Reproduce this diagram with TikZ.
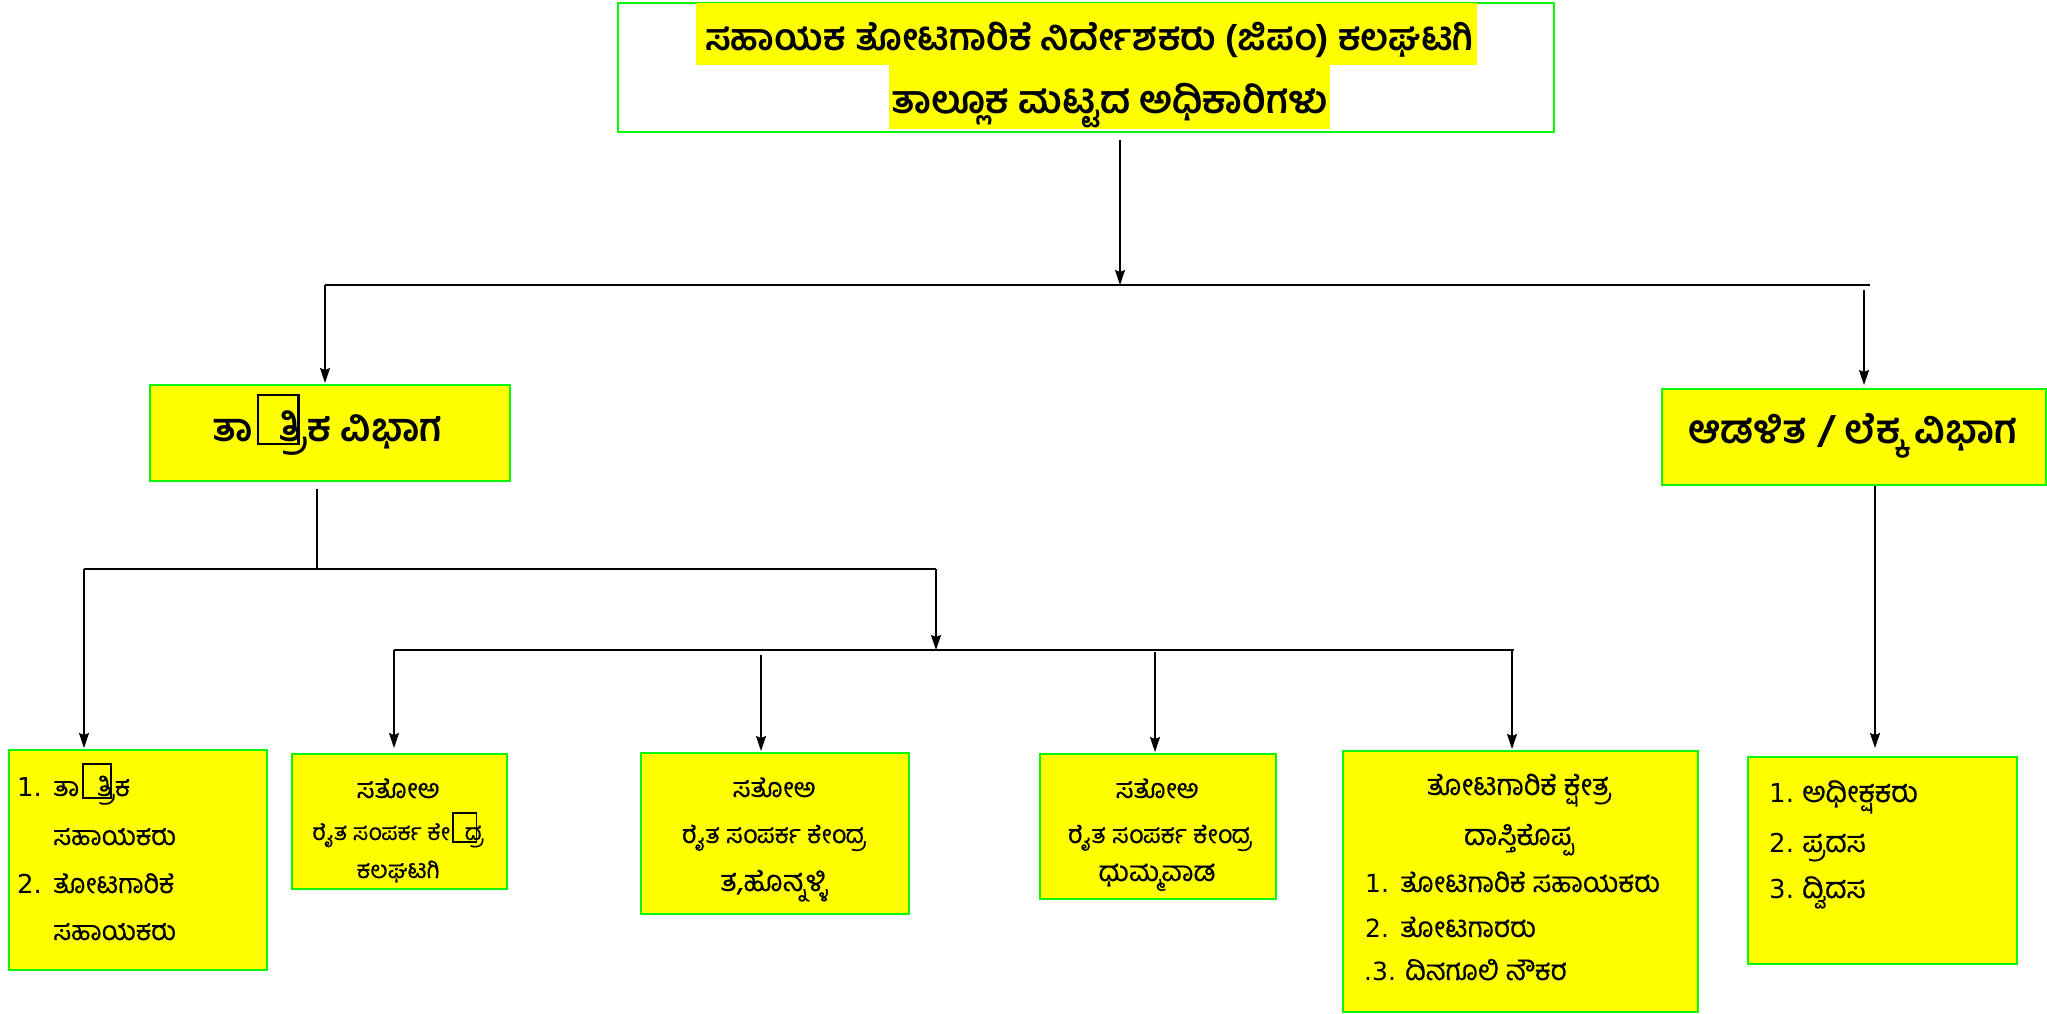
\documentclass[tikz,border=0pt]{standalone}
\usepackage{fontspec}
\usepackage{graphicx}
\usetikzlibrary{arrows.meta}
\newfontfamily\kn[Script=Kannada]{Hind Mysuru}
\newfontfamily\knr[Script=Kannada,FakeBold=0.3]{Hind Mysuru}
\newfontfamily\dv{DejaVu Sans}
\newcommand\kfs[1]{\knr\fontsize{#1}{#1}\selectfont}
\newcommand\dfs[1]{\dv\fontsize{#1}{#1}\selectfont}
\newcommand\kbf[1]{\kn\bfseries\fontsize{#1}{#1}\selectfont}
\newcommand\tofu{\kern0.1em\rlap{\raisebox{-0.05em}{\setlength\fboxsep{0pt}\setlength\fboxrule{0.06em}\framebox[1.1em]{\rule{0pt}{1.2em}}}}\kern0.55em}
\newcommand\fitw[2]{\resizebox{#1pt}{!}{#2}}
\definecolor{boxgreen}{RGB}{10,245,10}
\definecolor{hl}{RGB}{255,255,0}
\tikzset{
  gbox/.style={draw=boxgreen, line width=2.4pt, fill=hl, inner sep=0pt, anchor=north west},
  wbox/.style={draw=boxgreen, line width=2.4pt, fill=white, inner sep=0pt, anchor=north west},
  hlrect/.style={fill=hl, inner sep=0pt, anchor=north west},
  conn/.style={line width=1.6pt},
  bar/.style={line width=2.6pt},
  arr/.style={conn, -{Stealth[length=15pt,width=10pt,inset=2pt]}},
  lt/.style={anchor=base west, inner sep=0pt},
  ct/.style={anchor=base, inner sep=0pt}
}
\begin{document}
\begin{tikzpicture}[x=1pt,y=-1pt]
\useasboundingbox[fill=white] (0,0) rectangle (2047,1013);
% ---------- top box
\node[wbox, minimum width=936, minimum height=129] (top) at (617,1.5) {};
\node[hlrect, minimum width=781, minimum height=62] (hl1) at (696,3) {};
\node[hlrect, minimum width=441, minimum height=64] (hl2) at (889,65) {};
\node[lt] (title1) at (705,50) {\kbf{40}\fitw{768}{ಸಹಾಯಕ ತೋಟಗಾರಿಕೆ ನಿರ್ದೇಶಕರು (ಜಿಪಂ) ಕಲಘಟಗಿ}};
\node[lt] (title2) at (891,113) {\kbf{40}\fitw{437}{ತಾಲ್ಲೂಕ ಮಟ್ಟದ ಅಧಿಕಾರಿಗಳು}};
% ---------- division boxes
\node[gbox, minimum width=360, minimum height=96] (divL) at (149,384) {};
\node[lt] (divLt) at (212,441) {\kbf{38}\fitw{230}{ತಾ\tofu ತ್ರಿಕ ವಿಭಾಗ}};
\node[gbox, minimum width=384, minimum height=96] (divR) at (1661,388) {};
\node[lt] (divRt) at (1688,443) {\kbf{38}\fitw{329}{ಆಡಳಿತ / ಲೆಕ್ಕ ವಿಭಾಗ}};
% ---------- bottom boxes
\node[gbox, minimum width=258, minimum height=220] (b1) at (8,749) {};
\node[gbox, minimum width=215, minimum height=135] (b2) at (291,753) {};
\node[gbox, minimum width=268, minimum height=161] (b3) at (640,752) {};
\node[gbox, minimum width=236, minimum height=145] (b4) at (1039,753) {};
\node[gbox, minimum width=355, minimum height=261] (b5) at (1342,750) {};
\node[gbox, minimum width=269, minimum height=207] (b6) at (1747,756) {};
% box 1 text
\node[lt, font=\dfs{26}] (b1n1) at (17,796) {1.};
\node[lt, font=\kfs{27}] (b1t1) at (53,796) {ತಾ\tofu ತ್ರಿಕ};
\node[lt, font=\kfs{27}] (b1t2) at (53,845) {ಸಹಾಯಕರು};
\node[lt, font=\dfs{26}] (b1n2) at (17,893) {2.};
\node[lt, font=\kfs{27}] (b1t3) at (53,893) {ತೋಟಗಾರಿಕೆ};
\node[lt, font=\kfs{27}] (b1t4) at (53,940) {ಸಹಾಯಕರು};
% box 2 text
\node[ct, font=\kfs{27}] (b2t1) at (398,798) {ಸತೋಅ};
\node[ct, font=\kfs{23}] (b2t2) at (398,840) {ರೈತ ಸಂಪರ್ಕ ಕೇ\tofu ದ್ರ};
\node[ct, font=\kfs{24}] (b2t3) at (398,878) {ಕಲಘಟಗಿ};
% box 3 text
\node[ct, font=\kfs{27}] (b3t1) at (774,797) {ಸತೋಅ};
\node[ct, font=\kfs{25}] (b3t2) at (774,843) {ರೈತ ಸಂಪರ್ಕ ಕೇಂದ್ರ};
\node[ct, font=\kfs{29}] (b3t3) at (774,891) {ತ,ಹೊನ್ನಳ್ಳಿ};
% box 4 text
\node[ct, font=\kfs{27}] (b4t1) at (1157,798) {ಸತೋಅ};
\node[ct, font=\kfs{25}] (b4t2) at (1160,843) {ರೈತ ಸಂಪರ್ಕ ಕೇಂದ್ರ};
\node[ct, font=\kfs{28}] (b4t3) at (1157,881) {ಧುಮ್ಮವಾಡ};
% box 5 text
\node[ct, font=\kfs{29}] (b5t1) at (1519,795) {ತೋಟಗಾರಿಕೆ ಕ್ಷೇತ್ರ};
\node[ct, font=\kfs{29}] (b5t2) at (1519,845) {ದಾಸ್ತಿಕೊಪ್ಪ};
\node[lt, font=\dfs{25}] (b5n1) at (1365,892) {1.};
\node[lt, font=\kfs{28}] (b5t3) at (1400,892) {ತೋಟಗಾರಿಕೆ ಸಹಾಯಕರು};
\node[lt, font=\dfs{25}] (b5n2) at (1365,937) {2.};
\node[lt, font=\kfs{28}] (b5t4) at (1400,937) {ತೋಟಗಾರರು};
\node[lt, font=\dfs{25}] (b5n3) at (1364,980) {.3.};
\node[lt, font=\kfs{28}] (b5t5) at (1405,980) {ದಿನಗೂಲಿ ನೌಕರ};
% box 6 text
\node[lt, font=\dfs{26}] (b6n1) at (1769,802) {1.};
\node[lt, font=\kfs{29}] (b6t1) at (1802,802) {ಅಧೀಕ್ಷಕರು};
\node[lt, font=\dfs{26}] (b6n2) at (1769,852) {2.};
\node[lt, font=\kfs{29}] (b6t2) at (1802,852) {ಪ್ರದಸ};
\node[lt, font=\dfs{26}] (b6n3) at (1769,898) {3.};
\node[lt, font=\kfs{29}] (b6t3) at (1802,898) {ದ್ವಿದಸ};
% ---------- junction coordinates
\coordinate (j0) at (1120,285);
\coordinate (jL) at (325,285);
\coordinate (jR) at (1870,285);
\coordinate (jR2) at (1864,290);
\coordinate (k0) at (317,569);
\coordinate (k1) at (84,569);
\coordinate (k2) at (936,569);
\coordinate (m0) at (936,650);
\coordinate (m1) at (394,650);
\coordinate (m2) at (761,655);
\coordinate (m3) at (1155,652);
\coordinate (m4) at (1512,650);
\coordinate (m5) at (1514,650);
\coordinate (r0) at (1875,486);
% ---------- connectors
\draw[arr, shorten <=7pt] (top.south -| j0) -- (j0);
\draw[bar] (jL) -- (jR);
\draw[arr, shorten >=1pt] (jL) -- (jL |- divL.north);
\draw[arr, shorten >=3pt] (jR2) -- (jR2 |- divR.north);
\draw[conn, shorten <=7pt] (k0 |- divL.south) -- (k0);
\draw[bar] (k1) -- (k2);
\draw[arr, shorten >=1pt] (k1) -- (k1 |- b1.north);
\draw[arr] (k2) -- (m0);
\draw[bar] (m1) -- (m5);
\draw[arr, shorten >=5pt] (m1) -- (m1 |- b2.north);
\draw[arr, shorten >=1pt] (m2) -- (m2 |- b3.north);
\draw[arr, shorten >=1pt] (m3) -- (m3 |- b4.north);
\draw[arr, shorten >=1pt] (m4) -- (m4 |- b5.north);
\draw[arr, shorten >=8pt] (r0) -- (r0 |- b6.north);
\end{tikzpicture}
\end{document}
